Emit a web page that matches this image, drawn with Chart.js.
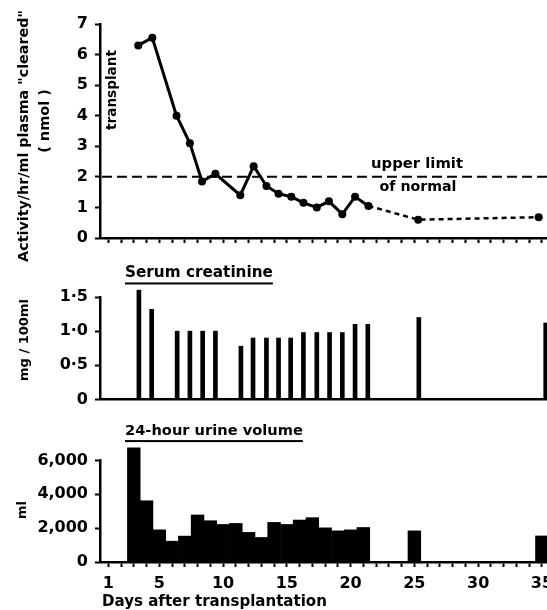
<!DOCTYPE html>
<html><head><meta charset="utf-8">
<script src="https://cdn.jsdelivr.net/npm/chart.js@4/dist/chart.umd.min.js"></script>
<style>
html,body{margin:0;padding:0;background:#fff;}
#wrap{position:relative;width:547px;height:610px;overflow:hidden;background:#fff;}
canvas{position:absolute;left:0;display:block;}
</style></head><body>
<div id="wrap">
<canvas id="c1" width="547" height="270" style="top:0"></canvas>
<canvas id="c2" width="547" height="155" style="top:250px"></canvas>
<canvas id="c3" width="547" height="205" style="top:405px"></canvas>
</div>
<script>
// ---------- data ----------
const activityDays   = [3.35, 4.45, 6.35, 7.4, 8.35, 9.4, 11.35, 12.4, 13.4, 14.35, 15.35, 16.3, 17.35, 18.3, 19.35, 20.35, 21.4, 25.3, 34.75];
const activityValues = [6.3, 6.55, 4.0, 3.1, 1.85, 2.1, 1.4, 2.35, 1.7, 1.45, 1.35, 1.15, 1.0, 1.2, 0.78, 1.35, 1.05, 0.6, 0.68];
const activityDottedFrom = 16;
const upperLimitNormal = 2;

const creatinineDays   = [3.4, 4.4, 6.4, 7.4, 8.4, 9.4, 11.4, 12.35, 13.4, 14.35, 15.3, 16.3, 17.35, 18.35, 19.35, 20.35, 21.35, 25.35, 35.3];
const creatinineValues = [1.6, 1.32, 1.0, 1.0, 1.0, 1.0, 0.78, 0.9, 0.9, 0.9, 0.9, 0.98, 0.98, 0.98, 0.98, 1.1, 1.1, 1.2, 1.12];

const urineDays   = [3, 4, 5, 6, 7, 8, 9, 10, 11, 12, 13, 14, 15, 16, 17, 18, 19, 20, 21, 25, 35];
const urineValues = [6750, 3620, 1900, 1230, 1530, 2780, 2440, 2220, 2280, 1750, 1450, 2340, 2220, 2480, 2620, 2020, 1840, 1900, 2040, 1840, 1540];

const dayTicks = [1,2,3,4,5,6,7,8,9,10,11,12,13,14,15,16,17,18,19,20,21,22,23,24,25,26,27,28,29,30,31,32,33,34,35];
const labelledDays = [1, 5, 10, 15, 20, 25, 30, 35];
const activityTicks = [0, 1, 2, 3, 4, 5, 6, 7];
const creatinineTicks = [0, 0.5, 1.0, 1.5];
const urineTicks = [0, 2000, 4000, 6000];
const dayRange = [0.35, 35.4];

// ---------- styling helpers ----------
const FAM = '"DejaVu Sans", sans-serif';
const tickFont = {family: FAM, size: 16, weight: 'bold'};
const BLACK = '#000';

function xScale(opts) {
  return Object.assign({
    type: 'linear', min: dayRange[0], max: dayRange[1], offset: false,
    afterBuildTicks: s => { s.ticks = dayTicks.map(v => ({value: v})); },
    grid: {display: true, offset: false, drawOnChartArea: false, drawTicks: true, tickLength: 5, tickWidth: 2, tickColor: BLACK},
    border: {display: true, color: BLACK, width: 2.5},
    ticks: {display: false}
  }, opts);
}
function xFit(h) {
  return s => { s.height = h; s.paddingLeft = 0; s.paddingRight = 0; s.paddingTop = 0; s.paddingBottom = 0; };
}
function yScale(min, max, ticks, fmt) {
  return {
    type: 'linear', min, max,
    afterBuildTicks: s => { s.ticks = ticks.map(v => ({value: v})); },
    afterFit: s => { s.width = 100; s.paddingTop = 0; s.paddingBottom = 0; },
    grid: {display: true, drawOnChartArea: false, drawTicks: true, tickLength: 5, tickWidth: 2, tickColor: BLACK},
    border: {display: true, color: BLACK, width: 2.5},
    ticks: {font: tickFont, color: BLACK, padding: 7, callback: fmt}
  };
}
// text items: either fitted to a target length (w) or given a size
function textPlugin(fn) {
  return {id: 'txt', afterDraw(chart) {
    const ctx = chart.ctx;
    fn(chart).forEach(t => {
      ctx.save();
      ctx.fillStyle = BLACK;
      let size = t.size;
      if (!size) {
        ctx.font = 'bold 20px ' + FAM;
        size = 20 * t.w / ctx.measureText(t.text).width;
      }
      ctx.font = 'bold ' + size.toFixed(2) + 'px ' + FAM;
      const w = ctx.measureText(t.text).width;
      ctx.textAlign = t.align || 'center';
      ctx.textBaseline = 'middle';
      ctx.translate(t.x, t.y);
      if (t.rot) ctx.rotate(-Math.PI / 2);
      ctx.fillText(t.text, 0, 0);
      if (t.underline) ctx.fillRect(0, size * 0.62, w, 2);
      ctx.restore();
    });
  }};
}
const common = {
  responsive: false, animation: false, events: [],
  plugins: {legend: {display: false}, tooltip: {enabled: false}}
};

// ---------- top: activity ----------
const upperLimitPlugin = {id: 'ul', beforeDatasetsDraw(chart) {
  const {ctx, chartArea} = chart;
  const y = chart.scales.y.getPixelForValue(upperLimitNormal);
  ctx.save();
  ctx.strokeStyle = BLACK; ctx.lineWidth = 2; ctx.setLineDash([10, 5]);
  ctx.beginPath(); ctx.moveTo(chartArea.left + 2, y); ctx.lineTo(chartArea.right, y); ctx.stroke();
  ctx.restore();
}};
new Chart(document.getElementById('c1'), {
  type: 'line',
  data: {datasets: [{
    data: activityDays.map((d, i) => ({x: d, y: activityValues[i]})),
    borderColor: BLACK, backgroundColor: BLACK, borderWidth: 3,
    pointRadius: 4, pointBackgroundColor: BLACK, pointBorderWidth: 0,
    tension: 0, clip: false,
    segment: {
      borderDash: c => c.p0DataIndex >= activityDottedFrom ? [5, 4] : undefined,
      borderWidth: c => c.p0DataIndex >= activityDottedFrom ? 2.5 : undefined
    }
  }]},
  options: Object.assign({}, common, {
    layout: {padding: {top: 24, left: 0, right: 0, bottom: 0}, autoPadding: false},
    scales: {
      x: xScale({afterFit: xFit(32)}),
      y: yScale(0, 7, activityTicks, v => String(v))
    }
  }),
  plugins: [upperLimitPlugin, textPlugin(chart => {
    const yl = chart.scales.y.getPixelForValue(upperLimitNormal);
    return [
      {text: 'Activity/hr/ml plasma "cleared"', x: 24, y: 136, w: 252, rot: true},
      {text: '( nmol )', x: 45, y: 121, size: 14.5, rot: true},
      {text: 'transplant', x: 112, y: 90, w: 80, rot: true},
      {text: 'upper limit', x: 417, y: yl - 13, w: 92},
      {text: 'of normal', x: 418, y: yl + 10, w: 77}
    ];
  })]
});

// ---------- middle: serum creatinine ----------
new Chart(document.getElementById('c2'), {
  type: 'bar',
  data: {datasets: [{
    data: creatinineDays.map((d, i) => ({x: d, y: creatinineValues[i]})),
    backgroundColor: BLACK, borderWidth: 0, barThickness: 4, clip: false
  }]},
  options: Object.assign({}, common, {
    layout: {padding: {top: 47, left: 0, right: 0, bottom: 0}, autoPadding: false},
    scales: {
      x: xScale({afterFit: xFit(5.5),
        grid: {display: false, offset: false, drawOnChartArea: false, drawTicks: false}}),
      y: yScale(0, 1.5, creatinineTicks, v => v === 0 ? '0' : v.toFixed(1).replace('.', '·'))
    }
  }),
  plugins: [textPlugin(chart => [
    {text: 'Serum creatinine', x: 125, y: 23, w: 148, align: 'left', underline: true},
    {text: 'mg / 100ml', x: 25, y: 90, w: 82, rot: true}
  ])]
});

// ---------- bottom: urine volume ----------
new Chart(document.getElementById('c3'), {
  type: 'bar',
  data: {datasets: [{
    data: urineDays.map((d, i) => ({x: d, y: urineValues[i]})),
    backgroundColor: BLACK, borderWidth: 0, barPercentage: 1, categoryPercentage: 1, clip: false
  }]},
  options: Object.assign({}, common, {
    layout: {padding: {top: 55.5, left: 0, right: 0, bottom: 0}, autoPadding: false},
    scales: {
      x: xScale({
        afterFit: xFit(48),
        ticks: {display: true, font: tickFont, color: BLACK, padding: 7, maxRotation: 0, autoSkip: false,
          callback: v => labelledDays.includes(v) ? String(v) : ''}
      }),
      y: yScale(0, 6000, urineTicks, v => v.toLocaleString('en-US'))
    }
  }),
  plugins: [textPlugin(chart => [
    {text: '24-hour urine volume', x: 125, y: 26, w: 178, align: 'left', underline: true},
    {text: 'ml', x: 23, y: 105, size: 13, rot: true},
    {text: 'Days after transplantation', x: 102, y: 197, w: 225, align: 'left'}
  ])]
});
</script>
</body></html>
